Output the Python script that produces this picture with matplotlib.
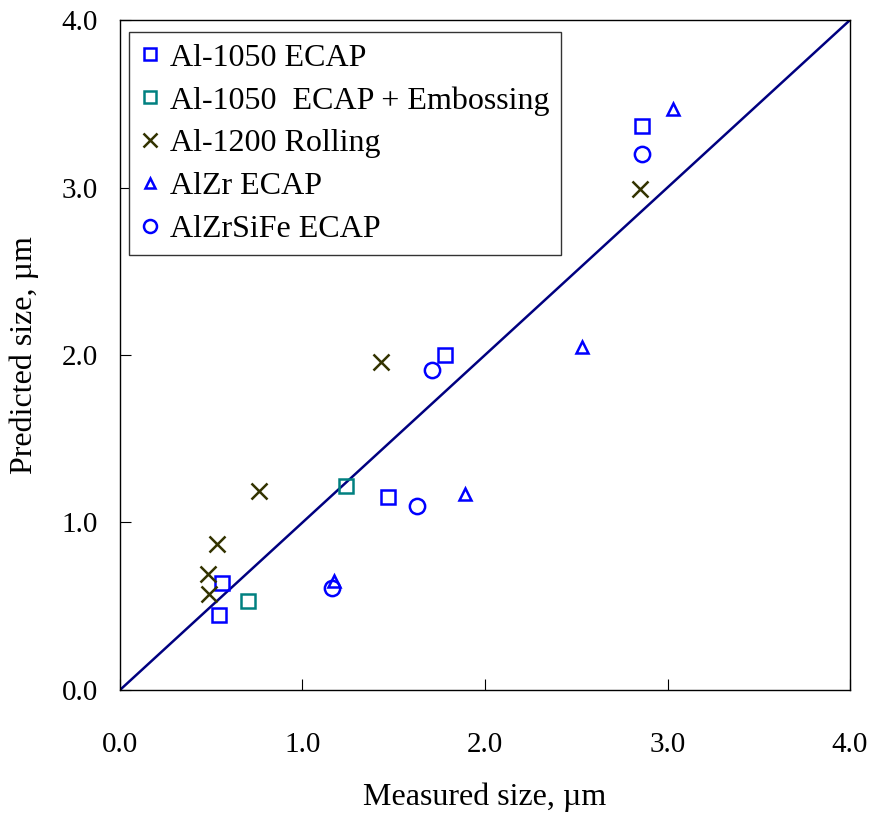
import matplotlib.pyplot as plt

plt.rcParams['font.family'] = ['Liberation Serif', 'DejaVu Serif']

# measured vs predicted grain size, um
al1050_x = [0.56, 0.54, 1.47, 1.78, 2.86]
al1050_y = [0.64, 0.45, 1.15, 2.00, 3.37]
emb_x = [1.24, 0.70]
emb_y = [1.22, 0.53]
al1200_x = [0.76, 0.53, 0.48, 0.49, 1.43, 2.85]
al1200_y = [1.19, 0.87, 0.69, 0.57, 1.96, 2.99]
alzr_x = [1.17, 1.89, 2.53, 3.03]
alzr_y = [0.65, 1.17, 2.05, 3.47]
alzrsife_x = [1.16, 1.63, 1.71, 2.86]
alzrsife_y = [0.61, 1.10, 1.91, 3.20]

fig = plt.figure(figsize=(8.72, 8.17), dpi=100)
ax = fig.add_axes([0.1376, 0.1555, 0.8372, 0.82])

ax.plot([0, 4], [0, 4], color='#000080', lw=1.8, zorder=1)

ax.plot(al1050_x, al1050_y, 's', ms=10, mfc='none', mec='#0000FF', mew=1.8, label='Al-1050 ECAP')
ax.plot(emb_x, emb_y, 's', ms=10, mfc='none', mec='#008080', mew=1.8, label='Al-1050  ECAP + Embossing')
ax.plot(al1200_x, al1200_y, 'x', ms=12, mec='#333300', mew=1.8, label='Al-1200 Rolling')
ax.plot(alzr_x, alzr_y, '^', ms=9, mfc='none', mec='#0000FF', mew=1.8, label='AlZr ECAP')
ax.plot(alzrsife_x, alzrsife_y, 'o', ms=11, mfc='none', mec='#0000FF', mew=1.8, label='AlZrSiFe ECAP')

ax.set_xlim(0, 4)
ax.set_ylim(0, 4)
ticks = [0, 1, 2, 3, 4]
ax.set_xticks(ticks)
ax.set_yticks(ticks)
ax.set_xticklabels([f'{t:.1f}' for t in ticks])
ax.set_yticklabels([f'{t:.1f}' for t in ticks])
ax.tick_params(axis='x', direction='in', length=8, pad=30, labelsize=21)
ax.tick_params(axis='y', direction='in', length=8, pad=16, labelsize=21)
for s in ax.spines.values():
    s.set_linewidth(1.0)

ax.set_xlabel('Measured size, µm', fontsize=23, labelpad=18)
ax.set_ylabel('Predicted size, µm', fontsize=23, labelpad=16)

leg = ax.legend(loc='upper left', bbox_to_anchor=(0.012, 0.982), fontsize=23,
                fancybox=False, edgecolor='#333333', framealpha=1,
                handlelength=0.6, handletextpad=0.35, borderpad=0.35,
                labelspacing=0.42, borderaxespad=0, markerscale=0.85)
leg.get_frame().set_linewidth(1.0)

fig.savefig('out.png', dpi=100)
